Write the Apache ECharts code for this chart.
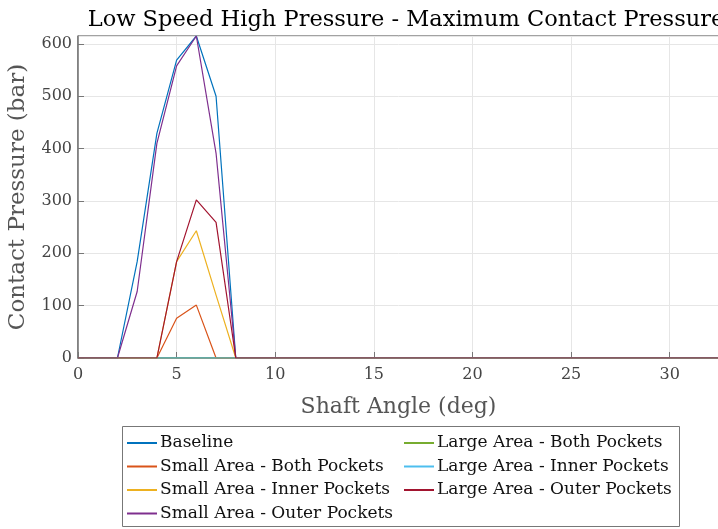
<!DOCTYPE html>
<html><head><meta charset="utf-8">
<script src="https://cdn.jsdelivr.net/npm/echarts@6/dist/echarts.min.js"></script>
<style>html,body{margin:0;padding:0;background:#fff}#c{width:718px;height:529px}</style>
</head><body><div id="c"></div>
<script>
const angles = [0,1,2,3,4,5,6,7,8,9,10,11,12,13,14,15,16,17,18,19,20,21,22,23,24,25,26,27,28,29,30,31,32,33];
const zerosTail = new Array(25).fill(0);
const baseline      = [0,0,0,184,429,569,615,500,0].concat(zerosTail);
const smallBoth     = [0,0,0,0,0,76,101,0,0].concat(zerosTail);
const smallInner    = [0,0,0,0,0,184,243,120,0].concat(zerosTail);
const smallOuter    = [0,0,0,127,410,558,615,391,0].concat(zerosTail);
const largeBoth     = [0,0,0,0,0,0,0,0,0].concat(zerosTail);
const largeInner    = [0,0,0,0,0,0,0,0,0].concat(zerosTail);
const largeOuter    = [0,0,0,0,0,184,302,259,0].concat(zerosTail);
const seriesNames = ['Baseline','Small Area - Both Pockets','Small Area - Inner Pockets','Small Area - Outer Pockets','Large Area - Both Pockets','Large Area - Inner Pockets','Large Area - Outer Pockets'];
const seriesData = [baseline, smallBoth, smallInner, smallOuter, largeBoth, largeInner, largeOuter];
const colors = ['#0072BD','#D95319','#EDB120','#7E2F8E','#77AC30','#4DBEEE','#A2142F'];
const xTicks = [0,5,10,15,20,25,30];
const yTicks = [0,100,200,300,400,500,600];
const FONT = '"DejaVu Serif", serif';

const legendCommon = {
  orient: 'vertical', padding: 0, itemGap: 5.5, itemWidth: 30, itemHeight: 2, icon: 'rect',
  textStyle: {fontFamily: FONT, fontSize: 17, color: '#111', lineHeight: 18, padding: [0,0,0,-2]}
};

const chart = echarts.init(document.getElementById('c'));
chart.setOption({
  animation: false,
  color: colors,
  textStyle: {fontFamily: FONT},
  title: {text: 'Low Speed High Pressure - Maximum Contact Pressure', left: 401, textAlign: 'center', top: 4,
    textStyle: {fontFamily: FONT, fontSize: 22.5, fontWeight: 'normal', color: '#000'}},
  grid: {left: 78, top: 36, width: 641, height: 322, outerBoundsMode: 'none', containLabel: false,
    show: true, borderColor: '#444', borderWidth: 1, backgroundColor: 'transparent'},
  graphic: [{type: 'rect', left: 122, top: 426, shape: {width: 557, height: 100},
    style: {fill: '#fff', stroke: '#777', lineWidth: 1}, z: -1}],
  xAxis: {type: 'value', min: 0, max: 32.5, interval: 5,
    name: 'Shaft Angle (deg)', nameLocation: 'middle', nameGap: 38,
    nameTextStyle: {fontFamily: FONT, fontSize: 22, color: '#555'},
    axisLine: {show: true, lineStyle: {color: '#777', width: 1.5}},
    axisTick: {show: true, inside: true, length: 6, lineStyle: {color: '#777'}},
    axisLabel: {fontFamily: FONT, fontSize: 16, color: '#444', margin: 9, showMaxLabel: false,
      formatter: v => xTicks.includes(v) ? String(v) : ''},
    splitLine: {show: true, lineStyle: {color: '#e6e6e6'}}},
  yAxis: {type: 'value', min: 0, max: 615, interval: 100,
    name: 'Contact Pressure (bar)', nameLocation: 'middle', nameGap: 48,
    nameTextStyle: {fontFamily: FONT, fontSize: 23, color: '#555'},
    axisLine: {show: true, lineStyle: {color: '#777', width: 1.5}},
    axisTick: {show: true, inside: true, length: 6, lineStyle: {color: '#777'}},
    axisLabel: {fontFamily: FONT, fontSize: 16, color: '#444', margin: 6, showMaxLabel: false,
      formatter: v => yTicks.includes(v) ? String(v) : ''},
    splitLine: {show: true, lineStyle: {color: '#e6e6e6'}}},
  legend: [
    Object.assign({left: 127, top: 434, data: seriesNames.slice(0, 4)}, legendCommon),
    Object.assign({left: 404, top: 434, data: seriesNames.slice(4)}, legendCommon)
  ],
  series: seriesNames.map((n, i) => ({
    name: n, type: 'line', symbol: 'none', clip: true,
    lineStyle: {width: 1.2, color: colors[i]}, itemStyle: {color: colors[i]},
    data: angles.map((a, k) => [a, seriesData[i][k]])
  }))
});
</script></body></html>
